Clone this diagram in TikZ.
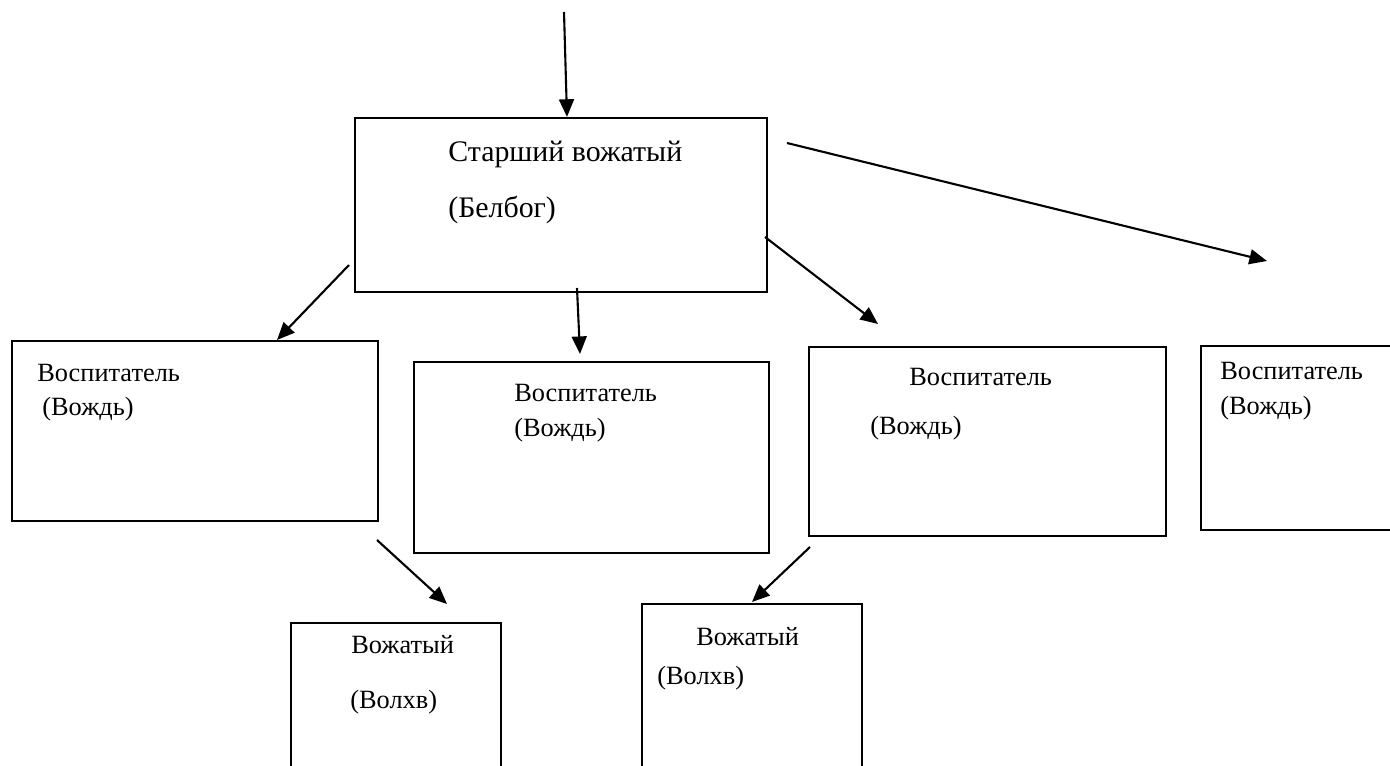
\documentclass[tikz,border=0pt]{standalone}
\usepackage{fontspec}
\setmainfont{Liberation Serif}
\usetikzlibrary{arrows.meta}

\begin{document}
\begin{tikzpicture}[x=0.02cm,y=-0.02cm,
  box/.style={draw,line width=1.3pt,inner sep=0pt},
  lbl/.style={anchor=base west,inner sep=0pt,font=\fontsize{15}{18}\selectfont},
  biglbl/.style={lbl,font=\fontsize{17}{20}\selectfont},
  arr/.style={line width=1.2pt,-{Triangle[length=10pt,width=8.5pt]}}]
\useasboundingbox (0,0) rectangle (1390,766);
\clip (0,0) rectangle (1390,766);

% boxes
\node[box,minimum width=8.24cm,minimum height=3.48cm] (senior) at (561,205) {};
\node[box,minimum width=7.32cm,minimum height=3.6cm] (vosp1) at (195,431) {};
\node[box,minimum width=7.1cm,minimum height=3.82cm] (vosp2) at (591.5,457.5) {};
\node[box,minimum width=7.14cm,minimum height=3.78cm] (vosp3) at (987.5,441.5) {};
\node[box,minimum width=8cm,minimum height=3.68cm] (vosp4) at (1401,438) {};
\node[box,minimum width=4.2cm,minimum height=5.54cm] (vozh1) at (396,761.5) {};
\node[box,minimum width=4.4cm,minimum height=5.92cm] (vozh2) at (752,752) {};

% texts
\node[biglbl] (senior1) at (448,162) {Старший вожатый};
\node[biglbl] (senior2) at (448,218) {(Белбог)};
\node[lbl] (vosp1a) at (37,382) {Воспитатель};
\node[lbl] (vosp1b) at (42,416) {(Вождь)};
\node[lbl] (vosp2a) at (514,402) {Воспитатель};
\node[lbl] (vosp2b) at (514,437) {(Вождь)};
\node[lbl] (vosp3a) at (909,386) {Воспитатель};
\node[lbl] (vosp3b) at (870,435) {(Вождь)};
\node[lbl] (vosp4a) at (1220,380) {Воспитатель};
\node[lbl] (vosp4b) at (1220,415) {(Вождь)};
\node[lbl] (vozh1a) at (351,654) {Вожатый};
\node[lbl] (vozh1b) at (350,708) {(Волхв)};
\node[lbl] (vozh2a) at (696,645) {Вожатый};
\node[lbl] (vozh2b) at (657,684) {(Волхв)};

% arrow ends
\coordinate (top) at (564,12);
\coordinate (s1) at (349,265);
\coordinate (e1) at (277,340);
\coordinate (s2) at (577,288);
\coordinate (e2) at (580,354);
\coordinate (s3) at (765,237);
\coordinate (e3) at (878,324);
\coordinate (s4) at (787,143);
\coordinate (e4) at (1267,261);
\coordinate (s5) at (377,540);
\coordinate (e5) at (447,604);
\coordinate (s6) at (810,547);
\coordinate (e6) at (752,602);

\draw[arr] (top) -- (senior.north -| 567,0);
\draw[arr] (s1) -- (e1);
\draw[arr] (s2) -- (e2);
\draw[arr] (s3) -- (e3);
\draw[arr] (s4) -- (e4);
\draw[arr] (s5) -- (e5);
\draw[arr] (s6) -- (e6);
\end{tikzpicture}
\end{document}
